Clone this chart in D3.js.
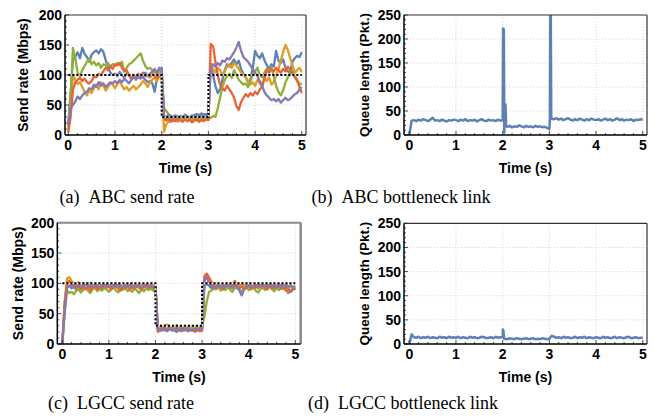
<!DOCTYPE html>
<html>
<head>
<meta charset="utf-8">
<script src="https://cdn.jsdelivr.net/npm/d3@7"></script>
<style>
  body { margin: 0; background: #fff; }
  svg { display: block; }
</style>
</head>
<body>
<svg id="fig" width="654" height="418"></svg>
<script>

// ---------------------------------------------------------------------------
// Data (read off the figure, sampled every 0.05 s)
// ---------------------------------------------------------------------------
var timeStep = 0.05;
var sampleTimes = d3.range(101).map(function(i){ return +(i * timeStep).toFixed(2); });

var xTicks = [0, 1, 2, 3, 4, 5];
var rateTicks = [0, 50, 100, 150, 200];
var queueTicks = [0, 50, 100, 150, 200, 250];

// link capacity (black dotted step)
var refTimes = [0, 2, 2, 3, 3, 5];
var refRate = [100, 100, 30, 30, 100, 100];

var seriesColors = ["#5E81B5", "#E19C24", "#8FB032", "#EB6235", "#8778B3"];

// (a) ABC send rate, Mbps
var abcBlue = [20, 70, 125, 130, 138, 128, 145, 135, 130, 122, 134, 138, 141, 136, 143, 139, 125, 112, 104, 100,
  102, 98, 105, 100, 96, 103, 99, 94, 100, 97, 95, 101, 96, 92, 88, 90, 86, 72, 95, 108,
  112, 30, 26, 28, 25, 30, 27, 24, 29, 26, 28, 31, 27, 30, 33, 35, 32, 36, 34, 35,
  34, 118, 100, 82, 70, 76, 92, 108, 118, 114, 120, 126, 118, 124, 110, 102, 96, 88, 92, 112,
  140, 132, 128, 136, 125, 116, 110, 118, 114, 140, 124, 120, 126, 112, 106, 104, 122, 128, 132, 130,
  138];
var abcOrange = [10, 50, 100, 92, 85, 88, 80, 72, 66, 74, 70, 78, 84, 76, 88, 82, 74, 80, 86, 84,
  78, 85, 90, 82, 76, 80, 74, 78, 82, 76, 80, 84, 90, 86, 80, 88, 92, 96, 90, 98,
  98, 5, 18, 22, 25, 23, 26, 22, 27, 24, 26, 23, 28, 25, 27, 24, 26, 28, 25, 27,
  26, 118, 110, 104, 112, 108, 100, 106, 114, 118, 112, 120, 116, 110, 104, 100, 96, 90, 84, 88,
  82, 92, 86, 80, 95, 90, 96, 84, 88, 100, 110, 124, 138, 150, 142, 128, 116, 104, 108, 112,
  105];
var abcGreen = [15, 60, 145, 128, 104, 98, 108, 115, 122, 128, 118, 122, 116, 120, 112, 118, 116, 120, 114, 118,
  115, 120, 117, 122, 106, 112, 118, 120, 124, 128, 132, 136, 124, 115, 110, 112, 108, 104, 102, 106,
  104, 45, 40, 34, 32, 30, 28, 31, 27, 29, 26, 30, 28, 25, 29, 27, 30, 26, 28, 31,
  30, 28, 32, 30, 44, 62, 80, 92, 98, 102, 95, 108, 100, 92, 88, 84, 86, 80, 90, 100,
  106, 112, 100, 96, 104, 110, 108, 112, 98, 82, 72, 66, 74, 88, 96, 104, 108, 96, 90, 86,
  84];
var abcRed = [5, 30, 75, 88, 92, 95, 90, 94, 88, 86, 90, 98, 96, 102, 100, 106, 112, 108, 114, 110,
  118, 116, 120, 112, 106, 108, 100, 94, 98, 92, 102, 96, 104, 98, 100, 96, 102, 98, 95, 100,
  98, 28, 24, 26, 22, 25, 23, 27, 24, 22, 26, 23, 25, 21, 24, 26, 22, 25, 23, 26,
  25, 152, 148, 122, 100, 84, 78, 74, 82, 76, 70, 62, 48, 42, 55, 62, 68, 64, 70, 66,
  72, 68, 76, 80, 96, 108, 104, 110, 106, 112, 108, 104, 110, 106, 114, 108, 102, 98, 92, 80,
  70];
var abcPurple = [15, 45, 50, 56, 64, 60, 66, 70, 72, 78, 76, 84, 80, 88, 82, 86, 80, 84, 88, 86,
  90, 86, 92, 88, 94, 90, 86, 92, 96, 94, 98, 94, 100, 104, 98, 102, 106, 110, 104, 112,
  108, 32, 30, 34, 28, 31, 33, 29, 32, 30, 34, 31, 29, 33, 30, 32, 34, 30, 33, 31,
  30, 110, 118, 114, 120, 116, 124, 122, 128, 126, 132, 138, 146, 155, 140, 130, 126, 122, 116, 110,
  104, 98, 90, 82, 72, 66, 62, 58, 60, 56, 60, 54, 58, 62, 58, 60, 64, 68, 70, 76,
  80];

// (c) LGCC send rate, Mbps
var lgccBlue = [0, 60, 95, 96, 92, 94, 90, 95, 92, 96, 93, 91, 95, 92, 97, 94, 90, 95, 93, 96,
  94, 92, 96, 98, 93, 95, 92, 97, 94, 91, 95, 93, 96, 92, 94, 97, 93, 95, 92, 94,
  94, 24, 22, 26, 23, 21, 25, 22, 24, 20, 23, 26, 22, 24, 21, 25, 23, 22, 24, 25,
  24, 95, 100, 96, 92, 94, 97, 93, 95, 98, 92, 96, 99, 94, 97, 92, 95, 100, 96, 93,
  97, 94, 92, 96, 99, 95, 93, 97, 94, 98, 95, 92, 96, 94, 93, 97, 95, 92, 86, 90,
  92];
var lgccOrange = [0, 70, 108, 110, 104, 100, 98, 102, 97, 100, 96, 98, 101, 95, 99, 97, 100, 96, 98, 95,
  97, 99, 95, 100, 96, 98, 94, 99, 97, 95, 100, 96, 98, 94, 97, 99, 95, 98, 96, 97,
  96, 28, 26, 30, 27, 25, 29, 26, 28, 24, 27, 30, 26, 28, 25, 29, 27, 26, 28, 27,
  28, 108, 112, 104, 98, 96, 100, 94, 97, 99, 95, 98, 96, 100, 94, 97, 99, 95, 98, 96,
  100, 97, 95, 99, 96, 98, 94, 97, 100, 96, 98, 95, 97, 99, 94, 96, 98, 95, 97, 94,
  96];
var lgccGreen = [0, 50, 88, 84, 86, 82, 88, 90, 85, 89, 92, 88, 84, 90, 93, 87, 91, 88, 92, 90,
  86, 90, 94, 88, 85, 91, 89, 93, 87, 90, 86, 92, 88, 84, 90, 87, 92, 89, 91, 88,
  90, 26, 28, 24, 30, 32, 27, 25, 29, 31, 28, 24, 27, 30, 26, 28, 25, 29, 27, 30,
  30, 45, 70, 86, 88, 92, 90, 94, 88, 92, 89, 94, 90, 86, 92, 95, 91, 86, 90, 93,
  89, 92, 94, 88, 85, 90, 93, 89, 92, 95, 90, 87, 92, 89, 94, 91, 88, 93, 96, 92,
  90];
var lgccRed = [0, 65, 100, 104, 98, 95, 92, 96, 90, 94, 91, 95, 88, 93, 96, 90, 94, 92, 97, 93,
  95, 90, 93, 96, 91, 88, 94, 92, 95, 90, 94, 91, 96, 93, 90, 94, 97, 92, 95, 93,
  92, 20, 24, 22, 26, 23, 28, 25, 22, 27, 24, 21, 26, 23, 25, 22, 24, 20, 23, 21,
  22, 112, 116, 110, 102, 96, 92, 97, 94, 90, 95, 100, 93, 96, 104, 97, 92, 95, 90, 93,
  96, 90, 94, 97, 92, 95, 98, 93, 90, 95, 92, 96, 93, 97, 91, 94, 90, 84, 88, 92,
  90];
var lgccPurple = [0, 55, 92, 96, 94, 98, 95, 97, 93, 96, 100, 95, 97, 94, 98, 96, 93, 97, 95, 98,
  96, 94, 97, 95, 99, 96, 93, 97, 95, 98, 94, 96, 95, 97, 93, 96, 98, 94, 96, 95,
  95, 25, 23, 27, 24, 22, 26, 24, 23, 25, 22, 26, 24, 23, 27, 24, 22, 25, 24, 26,
  25, 105, 110, 100, 96, 92, 94, 97, 93, 96, 94, 98, 95, 92, 97, 94, 88, 80, 90, 95,
  97, 94, 96, 93, 98, 95, 97, 94, 96, 98, 95, 97, 93, 96, 98, 94, 97, 95, 96, 93,
  94];

// (b) ABC queue, packets, plus the short spikes at the capacity changes
var abcQueue = [0, 30, 31, 29, 32, 30, 33, 31, 29, 32, 36, 30, 31, 29, 32, 30, 28, 31, 30, 32,
  31, 29, 32, 30, 33, 29, 31, 30, 32, 28, 31, 33, 30, 29, 32, 30, 31, 29, 32, 30,
  30, 62, 17, 19, 16, 18, 17, 20, 18, 16, 19, 17, 18, 16, 19, 17, 18, 16, 17, 15,
  12, 34, 33, 35, 32, 34, 31, 33, 35, 32, 30, 33, 31, 34, 32, 30, 33, 31, 34, 32,
  31, 33, 30, 32, 34, 31, 33, 30, 32, 35, 31, 33, 30, 32, 31, 33, 29, 32, 31, 33,
  32];
var abcQueueSpikes = [[2.008, 222], [2.025, 220], [2.035, 5], [2.045, 60], [2.06, 64], [2.075, 18],
  [3.01, 30], [3.018, 250], [3.03, 250], [3.04, 36]];

// (d) LGCC queue, packets
var lgccQueue = [0, 20, 14, 13, 15, 12, 14, 13, 15, 12, 14, 13, 12, 15, 13, 14, 12, 15, 13, 14,
  13, 15, 12, 14, 13, 12, 15, 13, 14, 12, 13, 15, 14, 12, 13, 14, 12, 15, 13, 14,
  14, 11, 10, 12, 11, 10, 12, 11, 10, 11, 12, 10, 11, 12, 10, 11, 10, 12, 11, 10,
  11, 17, 15, 13, 14, 12, 15, 13, 14, 12, 13, 15, 12, 14, 13, 15, 12, 14, 13, 12,
  14, 13, 12, 15, 13, 14, 12, 13, 15, 12, 14, 13, 12, 14, 15, 12, 13, 14, 12, 13,
  13];
var lgccQueueSpikes = [[2.005, 30], [2.015, 28], [2.028, 11]];

// ---------------------------------------------------------------------------
// Panels
// ---------------------------------------------------------------------------
function zipSeries(values, extra) {
  var pts = sampleTimes.map(function(t, i){ return [t, values[i]]; });
  if (extra) pts = pts.concat(extra).sort(function(a, b){ return a[0] - b[0]; });
  return pts;
}

var panels = [
  { id: "a", x0: 65, x1: 306, y0: 15, y1: 135, xDom: [-0.07, 5.09], yMax: 200, yTicks: rateTicks,
    yLabel: "Send rate (Mbps)", yLabelX: 28, ref: true, lineW: 2.3,
    series: [abcBlue, abcOrange, abcGreen, abcRed, abcPurple].map(function(s){ return zipSeries(s); }),
    caption: "(a)\u00a0\u00a0ABC send rate", capX: 127, capY: 203, frameRight: "#333" },
  { id: "b", x0: 404, x1: 647, y0: 15, y1: 135, xDom: [-0.113, 5.09], yMax: 250, yTicks: queueTicks,
    yLabel: "Queue length (Pkt.)", yLabelX: 369, ref: false, lineW: 2.5,
    series: [zipSeries(abcQueue, abcQueueSpikes)],
    caption: "(b)\u00a0\u00a0ABC bottleneck link", capX: 401, capY: 203, frameRight: "#333" },
  { id: "c", x0: 57.3, x1: 300.7, y0: 222.7, y1: 344, xDom: [-0.107, 5.116], yMax: 200, yTicks: rateTicks,
    yLabel: "Send rate (Mbps)", yLabelX: 23, ref: true, lineW: 2.3,
    series: [lgccBlue, lgccOrange, lgccGreen, lgccRed, lgccPurple].map(function(s){ return zipSeries(s); }),
    caption: "(c)\u00a0\u00a0LGCC send rate", capX: 121, capY: 409, frameRight: "#888" },
  { id: "d", x0: 404, x1: 647, y0: 223.3, y1: 344, xDom: [-0.113, 5.09], yMax: 250, yTicks: queueTicks,
    yLabel: "Queue length (Pkt.)", yLabelX: 369, ref: false, lineW: 2.5,
    series: [zipSeries(lgccQueue, lgccQueueSpikes)],
    caption: "(d)\u00a0\u00a0LGCC bottleneck link", capX: 403, capY: 409, frameRight: "#333" }
];

var svg = d3.select("#fig");
var sansBold = "'Liberation Sans', Arial, Helvetica, sans-serif";

panels.forEach(drawPanel);

function drawPanel(p) {
  var x = d3.scaleLinear().domain(p.xDom).range([p.x0, p.x1]);
  var y = d3.scaleLinear().domain([0, p.yMax]).range([p.y1, p.y0]);
  var g = svg.append("g").attr("class", "panel-" + p.id);

  g.append("clipPath").attr("id", "clip-" + p.id)
    .append("rect")
    .attr("x", p.x0).attr("y", p.y0)
    .attr("width", p.x1 - p.x0).attr("height", p.y1 - p.y0);

  // grid
  var grid = g.append("g").attr("stroke", "#c8c8c8").attr("stroke-width", 0.8).attr("stroke-dasharray", "1,2");
  grid.selectAll("line.vx").data(xTicks.slice(1)).enter().append("line")
    .attr("x1", function(d){ return x(d); }).attr("x2", function(d){ return x(d); })
    .attr("y1", p.y0).attr("y2", p.y1);
  grid.selectAll("line.hy").data(p.yTicks.slice(1, -1)).enter().append("line")
    .attr("y1", function(d){ return y(d); }).attr("y2", function(d){ return y(d); })
    .attr("x1", p.x0).attr("x2", p.x1);

  // data lines
  var line = d3.line().x(function(d){ return x(d[0]); }).y(function(d){ return y(d[1]); });
  var plot = g.append("g").attr("clip-path", "url(#clip-" + p.id + ")");
  plot.selectAll("path.series").data(p.series).enter().append("path")
    .attr("class", "series")
    .attr("d", line)
    .attr("fill", "none")
    .attr("stroke", function(d, i){ return seriesColors[i]; })
    .attr("stroke-width", p.lineW)
    .attr("stroke-linejoin", "round");

  if (p.ref) {
    var refPts = refTimes.map(function(t, i){ return [t, refRate[i]]; });
    plot.append("path").attr("d", line(refPts))
      .attr("fill", "none").attr("stroke", "#fff").attr("stroke-width", 1.2);
    plot.append("path").attr("d", line(refPts))
      .attr("fill", "none").attr("stroke", "#000").attr("stroke-width", 2)
      .attr("stroke-dasharray", "2.2,1.8");
  }

  // inward ticks, major and minor
  var ticks = g.append("g").attr("stroke", "#222").attr("stroke-width", 0.8);
  var xMinor = d3.range(0, 5.001, 0.2);
  ticks.selectAll("line.xt").data(xMinor).enter().append("line")
    .attr("x1", function(d){ return x(d); }).attr("x2", function(d){ return x(d); })
    .attr("y1", p.y1).attr("y2", function(d){ return p.y1 - (Math.abs(d - Math.round(d)) < 1e-6 ? 4 : 2); });
  var yMinor = d3.range(0, p.yMax + 0.001, 10);
  ticks.selectAll("line.yt").data(yMinor).enter().append("line")
    .attr("y1", function(d){ return y(d); }).attr("y2", function(d){ return y(d); })
    .attr("x1", p.x0).attr("x2", function(d){ return p.x0 + (d % 50 === 0 ? 4 : 2); });

  // frame
  g.append("line").attr("x1", p.x0).attr("x2", p.x1).attr("y1", p.y0).attr("y2", p.y0)
    .attr("stroke", p.frameRight).attr("stroke-width", p.id === "c" ? 2 : 1.2);
  g.append("line").attr("x1", p.x1).attr("x2", p.x1).attr("y1", p.y0).attr("y2", p.y1)
    .attr("stroke", p.frameRight).attr("stroke-width", p.id === "c" ? 2.5 : 1.2);
  g.append("line").attr("x1", p.x0).attr("x2", p.x0).attr("y1", p.y0).attr("y2", p.y1)
    .attr("stroke", "#000").attr("stroke-width", 1.5);
  g.append("line").attr("x1", p.x0).attr("x2", p.x1).attr("y1", p.y1).attr("y2", p.y1)
    .attr("stroke", "#000").attr("stroke-width", 1.5);

  // tick labels
  g.selectAll("text.xl").data(xTicks).enter().append("text")
    .attr("x", function(d){ return x(d); }).attr("y", p.y1 + 15)
    .attr("text-anchor", "middle")
    .style("font", "bold 14px " + sansBold)
    .text(function(d){ return d; });
  g.selectAll("text.yl").data(p.yTicks).enter().append("text")
    .attr("x", p.x0 - 3).attr("y", function(d){ return y(d) + 5; })
    .attr("text-anchor", "end")
    .style("font", "bold 14px " + sansBold)
    .text(function(d){ return d; });

  // axis titles
  g.append("text")
    .attr("x", (p.x0 + p.x1) / 2).attr("y", p.y1 + 38)
    .attr("text-anchor", "middle")
    .style("font", "bold 14px " + sansBold)
    .text("Time (s)");
  var cy = (p.y0 + p.y1) / 2;
  g.append("text")
    .attr("transform", "translate(" + p.yLabelX + "," + cy + ") rotate(-90)")
    .attr("text-anchor", "middle")
    .style("font", "bold " + (p.id === "b" || p.id === "d" ? 13.5 : 14) + "px " + sansBold)
    .text(p.yLabel);

  // sub-caption
  g.append("text")
    .attr("x", p.capX).attr("y", p.capY)
    .attr("text-anchor", "middle")
    .style("font", "18px 'Liberation Serif', 'Times New Roman', serif")
    .text(p.caption);
}

</script>
</body>
</html>
